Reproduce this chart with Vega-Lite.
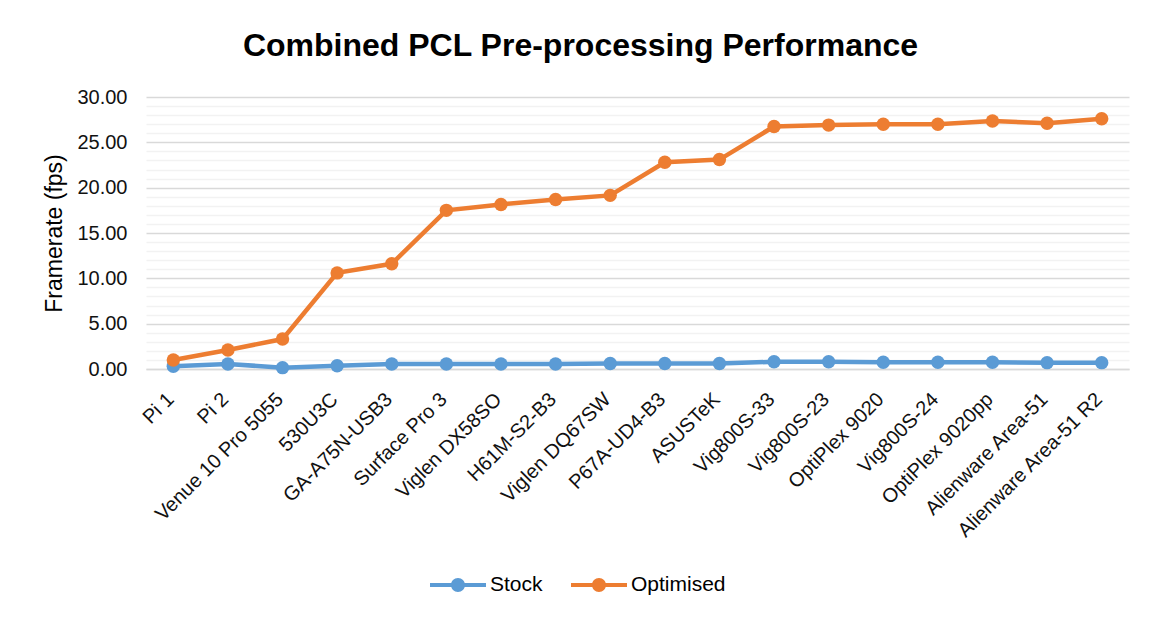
{
  "$schema": "https://vega.github.io/schema/vega-lite/v6.json",
  "width": 983,
  "height": 272,
  "autosize": {"type": "none"},
  "padding": {"left": 146, "top": 97, "right": 22, "bottom": 250},
  "background": "white",
  "config": {
    "font": "Liberation Sans",
    "view": {"stroke": null},
    "legend": {"padding": 0}
  },
  "title": {
    "text": "Combined PCL Pre-processing Performance",
    "font": "Liberation Sans",
    "fontSize": 32,
    "fontWeight": "bold",
    "color": "#000000",
    "anchor": "middle",
    "frame": "group",
    "dx": -57,
    "offset": 24
  },
  "data": {
    "values": [
      {"device": "Pi 1", "series": "Stock", "fps": 0.3},
      {"device": "Pi 2", "series": "Stock", "fps": 0.55},
      {"device": "Venue 10 Pro 5055", "series": "Stock", "fps": 0.15},
      {"device": "530U3C", "series": "Stock", "fps": 0.35},
      {"device": "GA-A75N-USB3", "series": "Stock", "fps": 0.55},
      {"device": "Surface Pro 3", "series": "Stock", "fps": 0.55},
      {"device": "Viglen DX58SO", "series": "Stock", "fps": 0.55},
      {"device": "H61M-S2-B3", "series": "Stock", "fps": 0.55},
      {"device": "Viglen DQ67SW", "series": "Stock", "fps": 0.6},
      {"device": "P67A-UD4-B3", "series": "Stock", "fps": 0.6},
      {"device": "ASUSTeK", "series": "Stock", "fps": 0.6},
      {"device": "Vig800S-33", "series": "Stock", "fps": 0.8},
      {"device": "Vig800S-23", "series": "Stock", "fps": 0.8},
      {"device": "OptiPlex 9020", "series": "Stock", "fps": 0.75},
      {"device": "Vig800S-24", "series": "Stock", "fps": 0.75},
      {"device": "OptiPlex 9020pp", "series": "Stock", "fps": 0.75},
      {"device": "Alienware Area-51", "series": "Stock", "fps": 0.7},
      {"device": "Alienware Area-51 R2", "series": "Stock", "fps": 0.7},
      {"device": "Pi 1", "series": "Optimised", "fps": 1.0},
      {"device": "Pi 2", "series": "Optimised", "fps": 2.1},
      {"device": "Venue 10 Pro 5055", "series": "Optimised", "fps": 3.3},
      {"device": "530U3C", "series": "Optimised", "fps": 10.6},
      {"device": "GA-A75N-USB3", "series": "Optimised", "fps": 11.6},
      {"device": "Surface Pro 3", "series": "Optimised", "fps": 17.5},
      {"device": "Viglen DX58SO", "series": "Optimised", "fps": 18.15},
      {"device": "H61M-S2-B3", "series": "Optimised", "fps": 18.7},
      {"device": "Viglen DQ67SW", "series": "Optimised", "fps": 19.15},
      {"device": "P67A-UD4-B3", "series": "Optimised", "fps": 22.8},
      {"device": "ASUSTeK", "series": "Optimised", "fps": 23.1},
      {"device": "Vig800S-33", "series": "Optimised", "fps": 26.75},
      {"device": "Vig800S-23", "series": "Optimised", "fps": 26.9},
      {"device": "OptiPlex 9020", "series": "Optimised", "fps": 27.0},
      {"device": "Vig800S-24", "series": "Optimised", "fps": 27.0},
      {"device": "OptiPlex 9020pp", "series": "Optimised", "fps": 27.35},
      {"device": "Alienware Area-51", "series": "Optimised", "fps": 27.1},
      {"device": "Alienware Area-51 R2", "series": "Optimised", "fps": 27.6}
    ]
  },
  "encoding": {
    "x": {
      "field": "device",
      "type": "nominal",
      "sort": null,
      "scale": {"type": "point", "padding": 0.5},
      "axis": {
        "title": null,
        "labelAngle": -45,
        "labelAlign": "right",
        "labelBaseline": "middle",
        "labelFontSize": 20,
        "labelColor": "#111111",
        "labelPadding": 27,
        "labelOffset": -3,
        "labelLimit": 0,
        "ticks": false,
        "grid": false,
        "domainColor": "#d9d9d9",
        "domainWidth": 1.5,
        "labelOverlap": false,
        "labelBound": false
      }
    },
    "y": {
      "field": "fps",
      "type": "quantitative",
      "scale": {"domain": [0, 30], "nice": false},
      "axis": {
        "title": "Framerate (fps)",
        "titleFontSize": 23,
        "titleFontWeight": "normal",
        "titleColor": "#000000",
        "titlePadding": 10,
        "values": [0,1,2,3,4,5,6,7,8,9,10,11,12,13,14,15,16,17,18,19,20,21,22,23,24,25,26,27,28,29,30],
        "labelExpr": "datum.value % 5 === 0 ? format(datum.value, '.2f') : ''",
        "labelFontSize": 20,
        "labelColor": "#111111",
        "labelPadding": 19,
        "labelOverlap": false,
        "labelBound": false,
        "ticks": false,
        "domain": false,
        "gridColor": {"condition": {"test": "datum.value % 5 === 0", "value": "#d9d9d9"}, "value": "#f2f2f2"},
        "gridWidth": 1.5
      }
    },
    "color": {
      "field": "series",
      "type": "nominal",
      "sort": ["Stock", "Optimised"],
      "scale": {"domain": ["Stock", "Optimised"], "range": ["#5B9BD5", "#ED7D31"]},
      "legend": {
        "title": null,
        "orient": "none",
        "direction": "horizontal",
        "legendX": 284,
        "legendY": 460,
        "symbolType": "M-1,-0.07L1,-0.07L1,0.07L-1,0.07Z M0.25,0A0.25,0.25 0 1 1 -0.25,0A0.25,0.25 0 1 1 0.25,0Z",
        "symbolSize": 3136,
        "symbolStrokeWidth": 0,
        "labelFontSize": 21,
        "labelColor": "#000000",
        "labelOffset": 4,
        "columnPadding": 28,
        "encode": {
          "symbols": {"update": {"fill": {"scale": "color", "field": "value"}, "strokeWidth": {"value": 0}, "opacity": {"value": 1}}}
        }
      }
    }
  },
  "layer": [
    {"mark": {"type": "line", "strokeWidth": 4.5}},
    {"mark": {"type": "point", "filled": true, "size": 180, "opacity": 1}}
  ]
}
